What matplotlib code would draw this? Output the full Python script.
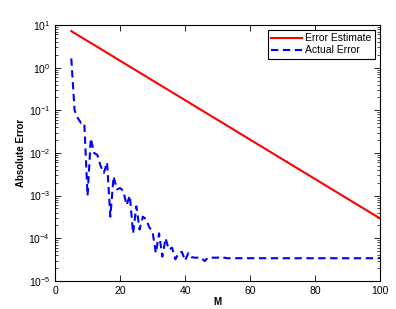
import numpy as np
import matplotlib
matplotlib.use("Agg")
import matplotlib.pyplot as plt

# M values and errors
M = list(range(5, 101))
est_start = 7.2      # error estimate at M=5
est_end = 2.9e-4     # error estimate at M=100

actual_head = [1.65, 0.10, 0.066, 0.05, 0.05, 1.0e-3, 0.022, 0.010, 0.009,
               0.005, 0.0034, 0.006, 3.2e-4, 2.8e-3, 1.4e-3, 1.5e-3, 1.3e-3,
               6e-4, 1.0e-3, 1.3e-4, 5.6e-4, 1.6e-4, 3.2e-4, 2.8e-4, 1.8e-4,
               1.4e-4, 4.5e-5, 1.3e-4, 3.7e-5, 1.0e-4, 5.4e-5, 6e-5, 3.2e-5,
               4.5e-5, 4.8e-5, 3.0e-5, 4.5e-5, 3.6e-5, 3.5e-5, 3.5e-5, 3.5e-5,
               2.9e-5, 3.5e-5, 3.5e-5, 3.5e-5, 3.5e-5, 3.7e-5, 3.5e-5]
actual_tail = 3.4e-5

actual = actual_head + [actual_tail] * (len(M) - len(actual_head))
estimate = [est_start, est_end]
est_M = [M[0], M[-1]]

plt.rcParams['font.family'] = ['Liberation Sans', 'DejaVu Sans']

fig = plt.figure(figsize=(3.96, 3.09), dpi=100)
ax = fig.add_axes([0.139, 0.091, 0.821, 0.828])

ax.semilogy(est_M, estimate, color='red', lw=1.5, label='Error Estimate')
ax.semilogy(M, actual, color='blue', lw=1.5, ls=(0, (3.5, 2.2)), label='Actual Error')

ax.set_xlim(0, 100)
ax.set_ylim(1e-5, 1e1)
ax.set_xticks([0, 20, 40, 60, 80, 100])
ax.set_yticks([10.0**k for k in range(-5, 2)])
ax.tick_params(which='both', direction='in', top=True, right=True, labelsize=7.5)
ax.tick_params(which='major', length=4, width=0.6)
ax.tick_params(which='minor', length=2, width=0.5)
for s in ax.spines.values():
    s.set_linewidth(0.8)

ax.set_xlabel('M', fontsize=7, fontweight='bold', labelpad=1)
ax.set_ylabel('Absolute Error', fontsize=7, fontweight='bold', labelpad=2)

leg = ax.legend(loc='upper right', fontsize=7.5, fancybox=False, framealpha=1,
                edgecolor='black', handlelength=3, borderpad=0.3,
                labelspacing=0.2, handletextpad=0.3, borderaxespad=0.5)
leg.get_frame().set_linewidth(0.8)

fig.savefig('out.png', dpi=100)
